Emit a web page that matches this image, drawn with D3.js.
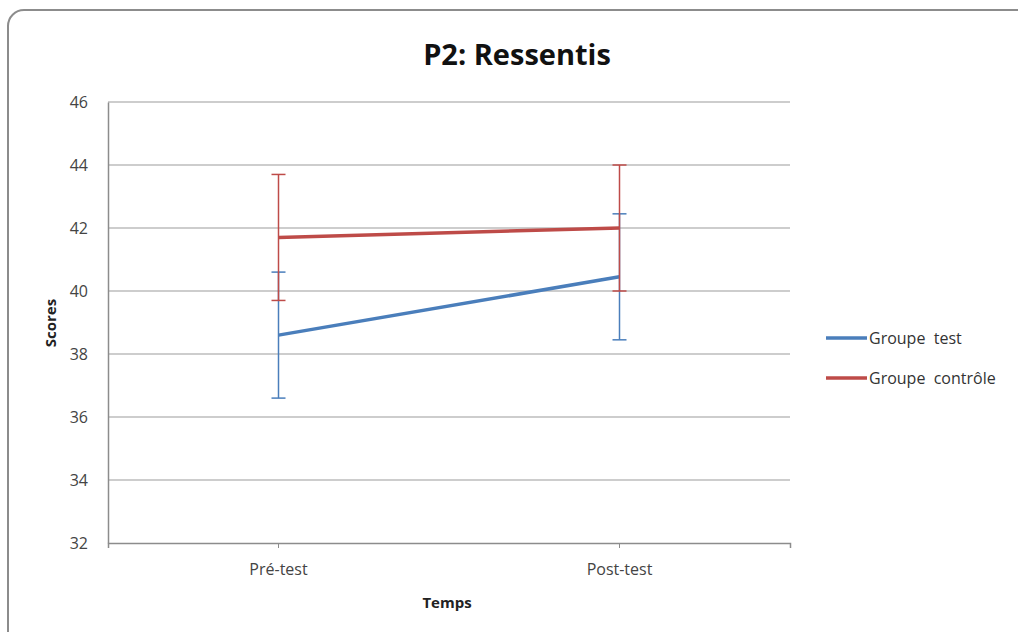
<!DOCTYPE html>
<html>
<head>
<meta charset="utf-8">
<script src="https://cdn.jsdelivr.net/npm/d3@7"></script>
<style>
  body { margin: 0; background: #fff; }
  text { font-family: "Open Sans", "Liberation Sans", sans-serif; }
</style>
</head>
<body>
<svg id="chart" width="1018" height="632"></svg>
<script>
// data
var categories = ['Pré-test', 'Post-test'];
var seriesNames = ['Groupe  test', 'Groupe  contrôle'];
var testMeans = [38.6, 40.45];
var testErr = [2.0, 2.0];
var ctrlMeans = [41.7, 42.0];
var ctrlErr = [2.0, 2.0];
var yTicks = [32, 34, 36, 38, 40, 42, 44, 46];
var colors = ['#4a7ebb', '#be4b48'];

var svg = d3.select('#chart');

// outer frame (rounded, cut off at right/bottom)
svg.append('rect')
  .attr('x', 8).attr('y', 10)
  .attr('width', 1040).attr('height', 660)
  .attr('rx', 16)
  .style('fill', 'none')
  .style('stroke', '#8c8c8c')
  .style('stroke-width', 2);

var plotLeft = 108, plotRight = 790, plotTop = 102, plotBottom = 543;

var xScale = d3.scaleBand().domain(categories).range([plotLeft, plotRight]);
var yScale = d3.scaleLinear().domain([32, 46]).range([plotBottom, plotTop]);

// title
svg.append('text')
  .attr('x', 517).attr('y', 65)
  .attr('text-anchor', 'middle')
  .style('font-size', '29px')
  .style('font-weight', 'bold')
  .style('fill', '#111')
  .text('P2: Ressentis');

// gridlines
svg.append('g')
  .selectAll('line')
  .data(yTicks.filter(d => d > 32))
  .enter()
  .append('line')
  .attr('x1', plotLeft).attr('x2', plotRight)
  .attr('y1', d => yScale(d)).attr('y2', d => yScale(d))
  .style('stroke', '#bdbdbd')
  .style('stroke-width', 1.5);

// y axis
var yAxis = d3.axisLeft(yScale).tickValues(yTicks).tickSize(0).tickPadding(20);
var gy = svg.append('g')
  .attr('transform', `translate(${plotLeft}, 0)`)
  .call(yAxis);
gy.select('.domain').style('stroke', '#8c8c8c').style('stroke-width', 1.5);
gy.selectAll('text').style('font-size', '16px').style('fill', '#444');

// x axis
var xAxis = d3.axisBottom(xScale).tickSize(5).tickPadding(16).tickSizeOuter(5);
var gx = svg.append('g')
  .attr('transform', `translate(0, ${plotBottom})`)
  .call(xAxis);
gx.select('.domain').style('stroke', '#8c8c8c').style('stroke-width', 1.5);
gx.selectAll('.tick line').style('stroke', '#8c8c8c');
gx.selectAll('text').style('font-size', '16px').style('fill', '#444');

// axis titles
svg.append('text')
  .attr('transform', 'translate(56, 323) rotate(-90)')
  .attr('text-anchor', 'middle')
  .style('font-size', '15px')
  .style('font-weight', 'bold')
  .style('fill', '#222')
  .text('Scores');

svg.append('text')
  .attr('x', 447).attr('y', 608)
  .attr('text-anchor', 'middle')
  .style('font-size', '15px')
  .style('font-weight', 'bold')
  .style('fill', '#222')
  .text('Temps');

var cx = d => xScale(d) + xScale.bandwidth() / 2;

function drawSeries(means, errs, color) {
  var pts = categories.map((c, i) => ({ c: c, m: means[i], e: errs[i] }));
  var line = d3.line().x(d => cx(d.c)).y(d => yScale(d.m));
  svg.append('path')
    .datum(pts)
    .attr('d', line)
    .style('fill', 'none')
    .style('stroke', color)
    .style('stroke-width', 3.5);

  var eb = svg.append('g').selectAll('g').data(pts).enter().append('g');
  eb.append('line')
    .attr('x1', d => cx(d.c)).attr('x2', d => cx(d.c))
    .attr('y1', d => yScale(d.m - d.e)).attr('y2', d => yScale(d.m + d.e))
    .style('stroke', color).style('stroke-width', 1.5);
  [-1, 1].forEach(s => {
    eb.append('line')
      .attr('x1', d => cx(d.c) - 7).attr('x2', d => cx(d.c) + 7)
      .attr('y1', d => yScale(d.m + s * d.e)).attr('y2', d => yScale(d.m + s * d.e))
      .style('stroke', color).style('stroke-width', 1.5);
  });
}

drawSeries(testMeans, testErr, colors[0]);
drawSeries(ctrlMeans, ctrlErr, colors[1]);

// legend
var legend = svg.append('g')
  .selectAll('g')
  .data(seriesNames)
  .enter()
  .append('g')
  .attr('transform', (d, i) => `translate(826, ${338 + i * 40})`);
legend.append('line')
  .attr('x1', 0).attr('x2', 41)
  .style('stroke', (d, i) => colors[i])
  .style('stroke-width', 3.5);
legend.append('text')
  .attr('x', 43).attr('y', 6)
  .style('font-size', '16px')
  .style('fill', '#333')
  .style('white-space', 'pre')
  .text(d => d);
</script>
</body>
</html>
